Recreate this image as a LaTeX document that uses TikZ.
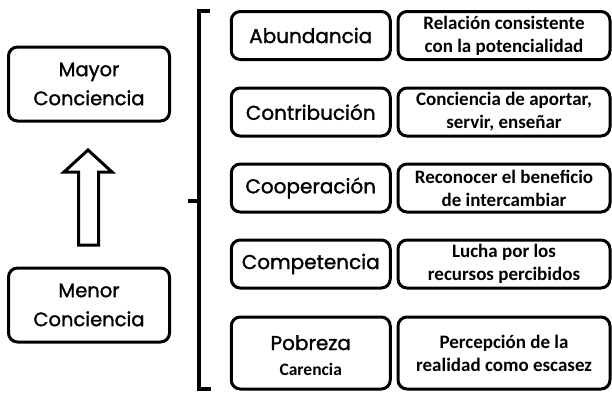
\documentclass[tikz,border=0pt]{standalone}
\usepackage{fontspec}
\newfontfamily\labelfont[FakeBold=1.4]{Poppins}
\newfontfamily\descfont{Carlito}
\tikzset{
  box/.style={draw=black, line width=3pt, rounded corners=9pt, align=center, inner sep=0pt},
  side/.style={box, minimum width=161pt, minimum height=74pt, font=\labelfont\fontsize{19.5}{29}\selectfont},
  lvl/.style={box, minimum width=159pt, minimum height=48pt, font=\labelfont\fontsize{20}{28}\selectfont},
  desc/.style={box, minimum width=212pt, minimum height=48pt, font=\descfont\bfseries\fontsize{19}{23}\selectfont},
  brk/.style={line width=4pt},
  bigarrow/.style={draw=black, line width=3pt, fill=white, line join=miter}
}
\begin{document}
\begin{tikzpicture}[x=1pt,y=-1pt]
\useasboundingbox (0,0) rectangle (612,392);
% left boxes
\node[side] (mayor) at (89,84) {Mayor\\Conciencia};
\node[side] (menor) at (89,305) {Menor\\Conciencia};
% arrow
\draw[bigarrow] (88,150) -- (112,172) -- (98.5,172) -- (98.5,245) -- (78.5,245) -- (78.5,172) -- (64,172) -- cycle;
% bracket
\coordinate (bt) at (210,11);
\coordinate (bb) at (211,389);
\coordinate (bm) at (188,201);
\draw[brk] (bt) -- (199,11) -- (199,389) -- (bb);
\draw[brk] (bm) -- (199,201);
% levels
\node[lvl] (l1) at (310.75,35.5) {Abundancia};
\node[lvl] (l2) at (310.75,112) {Contribución};
\node[lvl] (l3) at (310.75,188) {Cooperación};
\node[lvl] (l4) at (310.75,264) {Competencia};
\node[lvl, minimum height=72pt] (l5) at (310.75,353) {};
\node[font=\labelfont\fontsize{20}{28}\selectfont, anchor=base, inner sep=0pt] (l5a) at (310.75,350) {Pobreza};
\node[font=\descfont\bfseries\fontsize{17.5}{20}\selectfont, anchor=base, inner sep=0pt] (l5b) at (310.75,375) {Carencia};
% descriptions
\node[desc] (d1) at (504,35.5) {Relación consistente\\con la potencialidad};
\node[desc] (d2) at (504,112) {Conciencia de aportar,\\servir, enseñar};
\node[desc] (d3) at (504,188) {Reconocer el beneficio\\de intercambiar};
\node[desc] (d4) at (504,264) {Lucha por los\\recursos percibidos};
\node[desc, minimum height=72pt] (d5) at (504,353) {Percepción de la\\realidad como escasez};
\end{tikzpicture}
\end{document}
